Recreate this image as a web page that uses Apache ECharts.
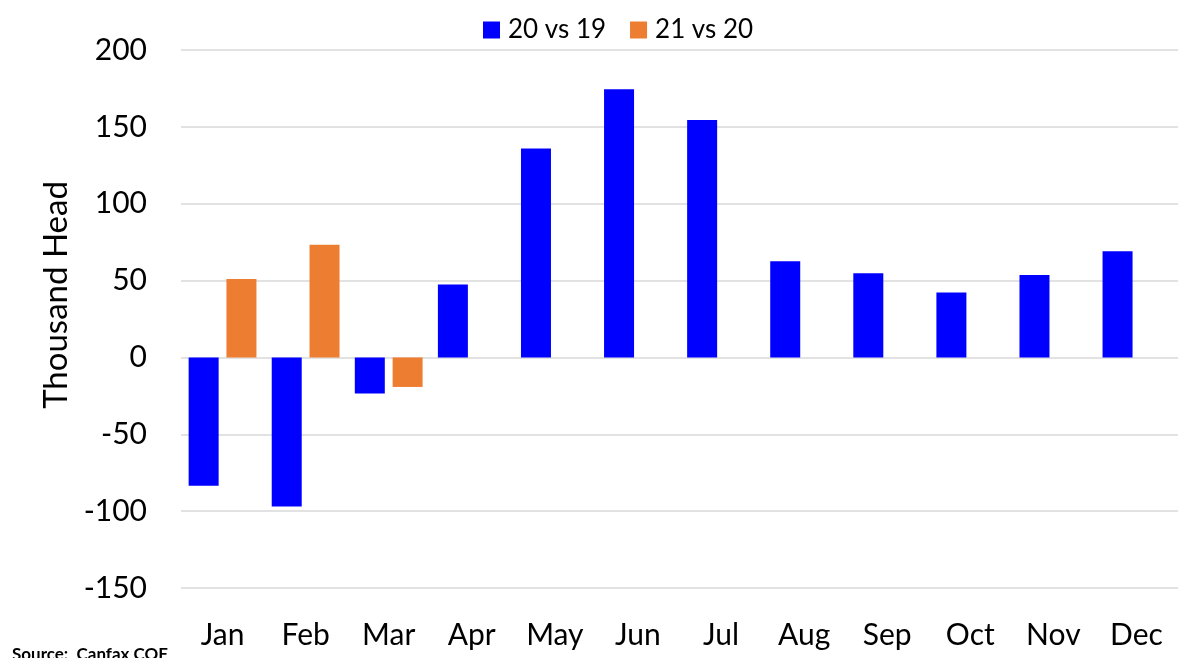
<!DOCTYPE html>
<html>
<head>
    <meta charset="utf-8">
    <title>Thousand Head</title>
    <script src="https://cdn.jsdelivr.net/npm/echarts@6/dist/echarts.min.js"></script>
</head>
<body style="margin:0">
<div id="chart" style="width: 1179px; height: 658px;"></div>
<script>
    // data
    var months = ['Jan', 'Feb', 'Mar', 'Apr', 'May', 'Jun', 'Jul', 'Aug', 'Sep', 'Oct', 'Nov', 'Dec'];
    var vs2019 = [-83.5, -97, -23.5, 47.5, 136, 174.5, 154.5, 62.5, 54.7, 42.2, 53.6, 69];
    var vs2020 = [51, 73.3, -19.2, '-', '-', '-', '-', '-', '-', '-', '-', '-'];
    var seriesNames = ['20 vs 19', '21 vs 20'];

    var font = 'Lato, "Open Sans", sans-serif';
    var myChart = echarts.init(document.getElementById('chart'));

    var option = {
        animation: false,
        textStyle: { fontFamily: font },
        legend: {
            top: 12,
            left: 478,
            itemWidth: 17,
            itemHeight: 17,
            itemGap: 24,
            icon: 'rect',
            textStyle: { fontSize: 26, color: '#000', fontFamily: font, padding: [0, 0, 0, 3] }
        },
        grid: { left: 181, right: 1, top: 50, bottom: 70 },
        xAxis: {
            type: 'category',
            data: months,
            axisLine: { show: false, onZero: false },
            axisTick: { show: false },
            axisLabel: { fontSize: 30, color: '#000', margin: 32, fontFamily: font }
        },
        yAxis: {
            type: 'value',
            min: -150,
            max: 200,
            interval: 50,
            name: 'Thousand Head',
            nameLocation: 'middle',
            nameGap: 108,
            nameTextStyle: { fontSize: 33, color: '#000', fontFamily: font, padding: [0, 0, 0, 48] },
            axisLabel: { fontSize: 30, color: '#000', margin: 34, fontFamily: font },
            splitLine: { lineStyle: { color: '#d9d9d9', width: 1.5 } }
        },
        series: [
            {
                name: seriesNames[0],
                type: 'bar',
                data: vs2019,
                barWidth: 30,
                barGap: '26%',
                itemStyle: { color: '#0000ff' }
            },
            {
                name: seriesNames[1],
                type: 'bar',
                data: vs2020,
                barWidth: 30,
                itemStyle: { color: '#ed7d31' }
            }
        ],
        graphic: [{
            type: 'text',
            left: 12,
            top: 646,
            style: { text: 'Source:  Canfax COF', fontSize: 17, fontWeight: 'bold', fill: '#000', fontFamily: font }
        }]
    };

    myChart.setOption(option);
</script>
</body>
</html>
